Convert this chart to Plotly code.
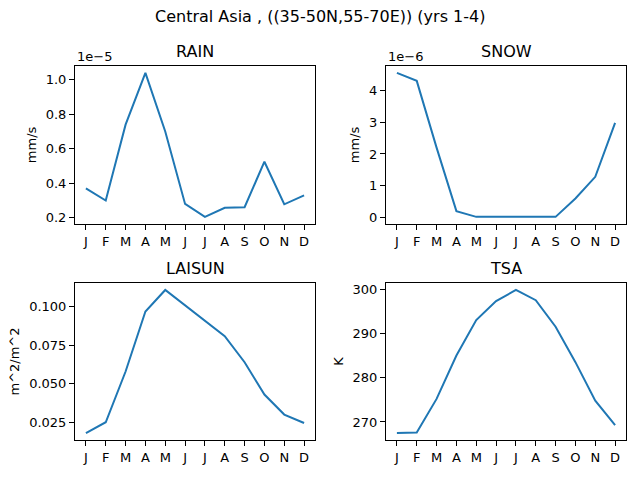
import numpy as np
import plotly.graph_objects as go

months = ["J", "F", "M", "A", "M", "J", "J", "A", "S", "O", "N", "D"]

# monthly means, yrs 1-4
rain = [0.37e-5, 0.30e-5, 0.74e-5, 1.04e-5, 0.70e-5, 0.28e-5,
        0.205e-5, 0.258e-5, 0.261e-5, 0.525e-5, 0.278e-5, 0.33e-5]
snow = [4.55e-6, 4.30e-6, 2.20e-6, 0.20e-6, 0.02e-6, 0.02e-6,
        0.02e-6, 0.02e-6, 0.02e-6, 0.60e-6, 1.28e-6, 2.98e-6]
laisun = [0.018, 0.025, 0.058, 0.097, 0.111, 0.101,
          0.091, 0.081, 0.064, 0.043, 0.030, 0.0245]
tsa = [267.5, 267.6, 275.2, 285.0, 293.0, 297.3,
       299.8, 297.5, 291.5, 283.5, 274.8, 269.3]

W, H = 640, 480
FONT = "DejaVu Sans"
BLUE = "#1f77b4"

# axes boxes in pixels (left, right, top, bottom)
boxes = [(75, 315, 65, 224), (386, 626, 65, 224),
         (75, 315, 283, 441), (386, 626, 283, 441)]

panels = [
    ("RAIN", rain, "mm/s", 1e-5, "1e\u22125"),
    ("SNOW", snow, "mm/s", 1e-6, "1e\u22126"),
    ("LAISUN", laisun, "m^2/m^2", None, None),
    ("TSA", tsa, "K", None, None),
]

fig = go.Figure()
layout = {}
annotations = []
x = list(range(12))

for i, (name, vals, unit, scale, offset_txt) in enumerate(panels):
    n = "" if i == 0 else str(i + 1)
    l, r, t, b = boxes[i]
    xd = [l / W, r / W]
    yd = [1 - b / H, 1 - t / H]

    fig.add_trace(go.Scatter(x=x, y=vals, mode="lines",
                             line=dict(color=BLUE, width=2),
                             xaxis="x" + n, yaxis="y" + n, showlegend=False))

    lo, hi = min(vals), max(vals)
    pad = (hi - lo) * 0.05
    yrange = [lo - pad, hi + pad]

    yax = dict(domain=yd, anchor="x" + n, range=yrange,
               showline=True, mirror=True, linecolor="black", linewidth=1,
               ticks="outside", ticklen=5, tickcolor="black",
               showgrid=False, zeroline=False,
               tickfont=dict(family=FONT, size=13, color="black"),
               title=dict(text=unit, font=dict(family=FONT, size=13, color="black"),
                          standoff=6))
    if name == "RAIN":
        tv = [0.2, 0.4, 0.6, 0.8, 1.0]
        yax.update(tickvals=[v * scale for v in tv], ticktext=["%.1f" % v for v in tv])
    elif name == "SNOW":
        tv = [0, 1, 2, 3, 4]
        yax.update(tickvals=[v * scale for v in tv], ticktext=[str(v) for v in tv])
    elif name == "LAISUN":
        yax.update(tickvals=[0.025, 0.05, 0.075, 0.1], tickformat=".3f")
    else:
        yax.update(tickvals=[270, 280, 290, 300])

    layout["yaxis" + n] = yax
    layout["xaxis" + n] = dict(domain=xd, anchor="y" + n, range=[-0.55, 11.55],
                               tickvals=x, ticktext=months,
                               showline=True, mirror=True, linecolor="black", linewidth=1,
                               ticks="outside", ticklen=5, tickcolor="black",
                               showgrid=False, zeroline=False,
                               tickfont=dict(family=FONT, size=13, color="black"))

    annotations.append(dict(text=name, x=(xd[0] + xd[1]) / 2, y=yd[1],
                            xref="paper", yref="paper", xanchor="center", yanchor="bottom",
                            yshift=3, showarrow=False,
                            font=dict(family=FONT, size=16, color="black")))
    if offset_txt:
        annotations.append(dict(text=offset_txt, x=xd[0], y=yd[1],
                                xref="paper", yref="paper", xanchor="left", yanchor="bottom",
                                showarrow=False,
                                font=dict(family=FONT, size=13, color="black")))

annotations.append(dict(text="Central Asia , ((35-50N,55-70E)) (yrs 1-4)",
                        x=0.5, y=1 - 16 / H, xref="paper", yref="paper",
                        xanchor="center", yanchor="middle", showarrow=False,
                        font=dict(family=FONT, size=16, color="black")))

fig.update_layout(width=W, height=H, margin=dict(l=0, r=0, t=0, b=0),
                  plot_bgcolor="white", paper_bgcolor="white",
                  annotations=annotations, **layout)

# drop the page's default body margin so the figure sits at the window origin
fig.write_html("out.html", config={"displayModeBar": False},
               post_script="document.body.style.margin='0';")
